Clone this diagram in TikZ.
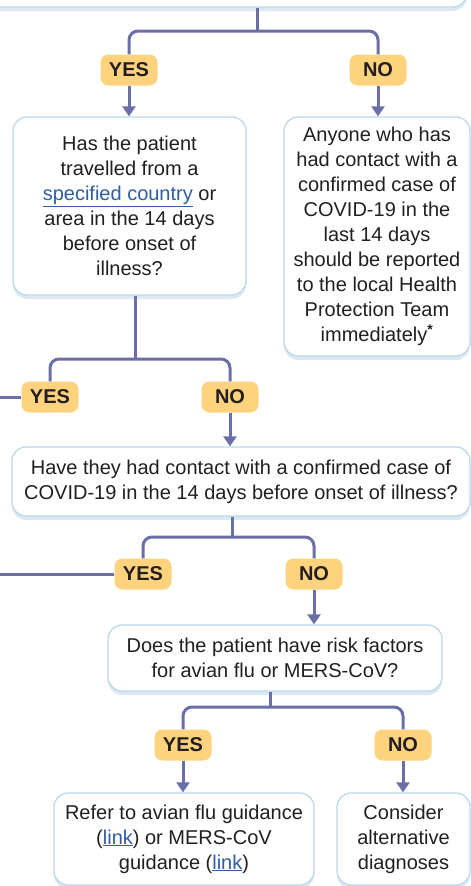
\documentclass[tikz,border=0pt]{standalone}
\usepackage{fontspec}
\setmainfont{Liberation Sans}
\usetikzlibrary{arrows.meta,positioning,shadows}
\definecolor{ink}{HTML}{231F20}
\definecolor{flow}{HTML}{6B6FA8}
\definecolor{tagfill}{HTML}{FFD27E}
\definecolor{rim}{HTML}{BCD8EA}
\definecolor{shade}{HTML}{D3E3EF}
\definecolor{linkcol}{HTML}{2F5DA8}
\newcommand{\weblink}[1]{\textcolor{linkcol}{\underline{#1}}}

\begin{document}
\begin{tikzpicture}[x=1pt, y=-1pt,
  font=\fontsize{20}{25}\selectfont, text=ink,
  box/.style={rounded corners=14pt, draw=rim, line width=1.3pt, fill=white, align=center, inner sep=0pt,
    drop shadow={shadow xshift=0pt, shadow yshift=-4pt, fill=shade, opacity=.8}},
  tag/.style={rounded corners=8pt, fill=tagfill, minimum width=57pt, minimum height=31pt, inner sep=0pt,
    font=\fontsize{20}{25}\selectfont\bfseries},
  ln/.style={draw=flow, line width=3pt, rounded corners=9pt},
  ar/.style={draw=flow, line width=3pt, -{Triangle[width=13pt,length=10pt]}},
]
\useasboundingbox (0,0) rectangle (471,886);
\clip (0,0) rectangle (471,886);
% question boxes
\node[box, minimum width=488pt, minimum height=68pt] (top) at (223,-27) {};
\node[box, minimum width=233pt, minimum height=178pt] (qtravel) at (129.5,206)
  {Has the patient\\travelled from a\\\weblink{specified country} or\\area in the 14 days\\before onset of\\illness?};
\node[box, minimum width=186pt, minimum height=239pt] (report) at (377,236.5)
  {Anyone who has\\had contact with a\\confirmed case of\\COVID-19 in the\\last 14 days\\should be reported\\to the local Health\\Protection Team\\immediately\textsuperscript{\textbf{*}}};
\node[box, minimum width=458pt, minimum height=69pt] (qcontact) at (241,481.5)
  {Have they had contact with a confirmed case of\\COVID-19 in the 14 days before onset of illness?};
\node[box, minimum width=334pt, minimum height=66pt] (qrisk) at (275,658)
  {Does the patient have risk factors\\for avian flu or MERS-CoV?};
\node[box, minimum width=260pt, minimum height=92pt] (refer) at (184,839)
  {Refer to avian flu guidance\\(\weblink{link}) or MERS-CoV\\guidance (\weblink{link})};
\node[box, minimum width=133pt, minimum height=92pt] (alt) at (403.5,839)
  {Consider\\alternative\\diagnoses};
% answer tags
\node[tag] (yes1) at (129,70) {YES};
\node[tag] (no1) at (378,70) {NO};
\node[tag] (yes2) at (50,397) {YES};
\node[tag] (no2) at (230,397) {NO};
\node[tag] (yes3) at (143,574) {YES};
\node[tag] (no3) at (314,574) {NO};
\node[tag] (yes4) at (183,745) {YES};
\node[tag] (no4) at (403,745) {NO};
% junctions and free ends
\coordinate (j1) at (257,31);
\coordinate (j2) at (135,359);
\coordinate (j3) at (232,537);
\coordinate (j4) at (270,707);
\coordinate (out2) at (-5,397);
\coordinate (out3) at (-5,574);
% connectors
\draw[ln] (top.south -| j1) -- (j1);
\draw[ln] (j1) -| (yes1.north);
\draw[ln] (j1) -| (no1.north);
\draw[ar] (yes1.south) -- (yes1 |- qtravel.north);
\draw[ar] (no1.south) -- (no1 |- report.north);
\draw[ln] (qtravel.south -| j2) -- (j2);
\draw[ln] (j2) -| (yes2.north);
\draw[ln] (j2) -| (no2.north);
\draw[ln] (yes2.west) -- (out2);
\draw[ar] (no2.south) -- (no2 |- qcontact.north);
\draw[ln] (qcontact.south -| j3) -- (j3);
\draw[ln] (j3) -| (yes3.north);
\draw[ln] (j3) -| (no3.north);
\draw[ln] (yes3.west) -- (out3);
\draw[ar] (no3.south) -- (no3 |- qrisk.north);
\draw[ln] (qrisk.south -| j4) -- (j4);
\draw[ln] (j4) -| (yes4.north);
\draw[ln] (j4) -| (no4.north);
\draw[ar] (yes4.south) -- (yes4 |- refer.north);
\draw[ar] (no4.south) -- (no4 |- alt.north);
\end{tikzpicture}
\end{document}
